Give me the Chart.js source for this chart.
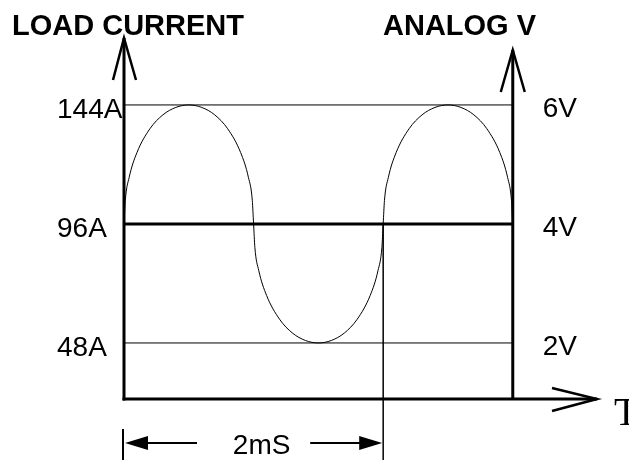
<!DOCTYPE html>
<html>
<head>
<meta charset="utf-8">
<script src="https://cdn.jsdelivr.net/npm/chart.js@4"></script>
<style>
  html, body { margin: 0; padding: 0; background: #fff; }
  #wrap { width: 629px; height: 462px; }
</style>
</head>
<body>
<div id="wrap"><canvas id="chart" width="629" height="462"></canvas></div>
<script>
// ---------- Data ----------
// time in ms, current in A
const WAVE_T = [0, 0.01, 0.04, 0.1, 0.2, 0.3, 0.4, 0.5, 0.6, 0.7, 0.8, 0.9, 0.96, 0.99,
  1.0, 1.01, 1.04, 1.1, 1.2, 1.3, 1.4, 1.5, 1.6, 1.7, 1.8, 1.9, 1.96, 1.99,
  2.0, 2.01, 2.04, 2.1, 2.2, 2.3, 2.4, 2.5, 2.6, 2.7, 2.8, 2.9, 2.96, 2.99, 3.0];
const WAVE_A = [96, 105.5, 114.8, 124.8, 134.4, 140, 143, 144, 143, 140, 134.4, 124.8, 114.8, 105.5,
  96, 86.5, 77.2, 67.2, 57.6, 52, 49, 48, 49, 52, 57.6, 67.2, 77.2, 86.5,
  96, 105.5, 114.8, 124.8, 134.4, 140, 143, 144, 143, 140, 134.4, 124.8, 114.8, 105.5, 96];

const LEVELS = [144, 96, 48];
const AMP_LABELS = ['144A', '96A', '48A'];
const VOLT_LABELS = ['6V', '4V', '2V'];

const T_END = 3;        // right-hand axis (ms)
const MARK_T = 2;       // end of the 2 ms dimension
const DIM_LABEL = '2mS';

// ---------- Helpers ----------
const FONT = '"Liberation Sans", Arial, sans-serif';

function line(ctx, x1, y1, x2, y2, w) {
  ctx.lineWidth = w;
  ctx.beginPath();
  ctx.moveTo(x1, y1);
  ctx.lineTo(x2, y2);
  ctx.stroke();
}

// open "V" style arrow head drawn with two strokes
function openHead(ctx, tx, ty, ax, ay, bx, by) {
  ctx.lineWidth = 2.5;
  ctx.beginPath();
  ctx.moveTo(ax, ay);
  ctx.lineTo(tx, ty);
  ctx.lineTo(bx, by);
  ctx.stroke();
}

function filledHead(ctx, tx, ty, dir) {
  ctx.beginPath();
  ctx.moveTo(tx, ty);
  ctx.lineTo(tx + dir * 23, ty - 7);
  ctx.lineTo(tx + dir * 23, ty + 7);
  ctx.closePath();
  ctx.fill();
}

// axes, labels and the dimension line
const diagram = {
  id: 'diagram',
  afterDatasetsDraw(chart) {
    const { ctx, chartArea: a, scales: { x, y } } = chart;
    const x0 = x.getPixelForValue(0);
    const xr = x.getPixelForValue(T_END);
    const xm = x.getPixelForValue(MARK_T);
    const yb = a.bottom;
    ctx.save();
    ctx.strokeStyle = '#000';
    ctx.fillStyle = '#000';
    ctx.lineCap = 'butt';

    // left axis
    line(ctx, x0, a.top, x0, yb + 1.5, 3);
    openHead(ctx, x0, a.top, x0 - 11, a.top + 42, x0 + 12, a.top + 42);
    // right axis
    const rt = a.top + 12;
    line(ctx, xr, rt, xr, yb, 3);
    openHead(ctx, xr, rt, xr - 12, rt + 42, xr + 12, rt + 42);
    // time axis
    line(ctx, x0 - 1.5, yb, a.right, yb, 3);
    openHead(ctx, a.right, yb, a.right - 45, yb - 11, a.right - 45, yb + 12);

    // marker from the mid line down through the dimension
    line(ctx, xm, y.getPixelForValue(96), xm, 460, 1.5);

    // dimension arrows
    const dy = 443;
    line(ctx, x0 - 1, 429, x0 - 1, 460, 2);
    filledHead(ctx, x0 + 1, dy, 1);
    line(ctx, x0 + 20, dy, x0 + 73, dy, 2);
    filledHead(ctx, xm - 1, dy, -1);
    line(ctx, xm - 20, dy, xm - 73, dy, 2);

    ctx.textBaseline = 'alphabetic';
    ctx.font = '28px ' + FONT;
    ctx.textAlign = 'center';
    ctx.fillText(DIM_LABEL, (x0 + xm) / 2 + 8, 454);

    // level labels
    ctx.textAlign = 'left';
    LEVELS.forEach((v, i) => {
      const py = y.getPixelForValue(v);
      ctx.fillText(AMP_LABELS[i], 57, py + 13);
      ctx.fillText(VOLT_LABELS[i], xr + 30, py + 12);
    });

    // titles
    ctx.font = 'bold 29px ' + FONT;
    ctx.fillText('LOAD CURRENT', 12, 35);
    ctx.fillText('ANALOG V', 383, 35);

    ctx.font = '40px "Liberation Serif", "Times New Roman", serif';
    ctx.fillText('T', 614, 425);
    ctx.restore();
  }
};

const levelSet = (v, w) => ({
  data: [{ x: 0, y: v }, { x: T_END, y: v }],
  borderColor: '#000',
  borderWidth: w,
  pointRadius: 0,
  clip: false
});

new Chart(document.getElementById('chart'), {
  type: 'line',
  data: {
    datasets: [
      {
        data: WAVE_T.map((t, i) => ({ x: t, y: WAVE_A[i] })),
        borderColor: '#000',
        borderWidth: 1,
        pointRadius: 0,
        cubicInterpolationMode: 'monotone',
        clip: false
      },
      levelSet(LEVELS[0], 1),
      levelSet(LEVELS[1], 3),
      levelSet(LEVELS[2], 1)
    ]
  },
  options: {
    responsive: false,
    animation: false,
    events: [],
    layout: { padding: { left: 124, right: 32, top: 38, bottom: 63 } },
    plugins: { legend: { display: false }, tooltip: { enabled: false } },
    scales: {
      x: { type: 'linear', min: 0, max: 3.65, display: false },
      y: { type: 'linear', min: 25.4, max: 171, display: false }
    }
  },
  plugins: [diagram]
});
</script>
</body>
</html>
